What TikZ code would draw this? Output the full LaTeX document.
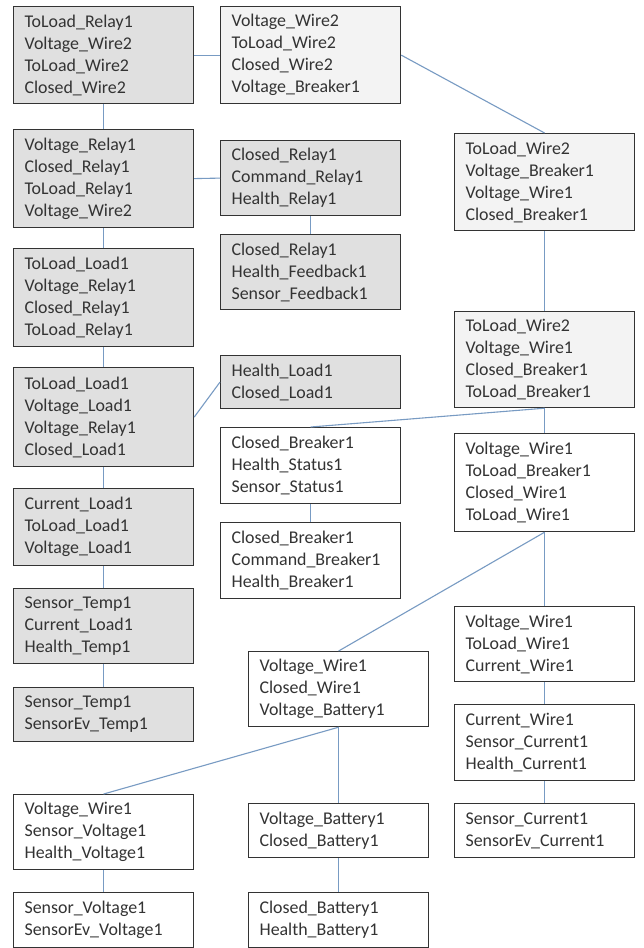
\documentclass[tikz,border=0pt]{standalone}
\usepackage{fontspec}
\setmainfont{Carlito}
\definecolor{gfill}{HTML}{E0E0E0}
\definecolor{lfill}{HTML}{F3F3F3}
\definecolor{linec}{RGB}{120,155,195}
\definecolor{textc}{HTML}{333333}
\definecolor{bordc}{HTML}{333333}
\tikzset{
  box/.style={draw=bordc, line width=1.2pt, anchor=north west, minimum width=180pt,
    text width=158pt, align=left, inner xsep=11pt, inner ysep=0pt,
    font=\fontsize{17.9}{22}\selectfont, text=textc},
  gbox/.style={box, fill=gfill},
  lbox/.style={box, fill=lfill},
  wbox/.style={box, fill=white},
  conn/.style={draw=linec, line width=1.1pt}
}
\begin{document}
\begin{tikzpicture}[x=1pt,y=-1pt]
\useasboundingbox[fill=white] (0,0) rectangle (644,948);
% left column
\node[gbox, minimum height=97pt] (A) at (13,6) {ToLoad\_Relay1\\Voltage\_Wire2\\ToLoad\_Wire2\\Closed\_Wire2};
\node[gbox, minimum height=98pt] (B) at (13,129) {Voltage\_Relay1\\Closed\_Relay1\\ToLoad\_Relay1\\Voltage\_Wire2};
\node[gbox, minimum height=98pt] (C) at (13,248) {ToLoad\_Load1\\Voltage\_Relay1\\Closed\_Relay1\\ToLoad\_Relay1};
\node[gbox, minimum height=99pt] (D) at (13,367) {ToLoad\_Load1\\Voltage\_Load1\\Voltage\_Relay1\\Closed\_Load1};
\node[gbox, minimum height=77pt] (E) at (13,488) {Current\_Load1\\ToLoad\_Load1\\Voltage\_Load1};
\node[gbox, minimum height=75pt] (F) at (13,588) {Sensor\_Temp1\\Current\_Load1\\Health\_Temp1};
\node[gbox, minimum height=54pt] (G) at (13,687) {Sensor\_Temp1\\SensorEv\_Temp1};
\node[wbox, minimum height=75pt] (H) at (13,794) {Voltage\_Wire1\\Sensor\_Voltage1\\Health\_Voltage1};
\node[wbox, minimum height=55pt] (I) at (13,892) {Sensor\_Voltage1\\SensorEv\_Voltage1};
% middle column
\node[lbox, minimum height=97pt] (J) at (220,6) {Voltage\_Wire2\\ToLoad\_Wire2\\Closed\_Wire2\\Voltage\_Breaker1};
\node[gbox, minimum height=75pt] (K) at (220,140) {Closed\_Relay1\\Command\_Relay1\\Health\_Relay1};
\node[gbox, minimum height=75pt] (L) at (220,234) {Closed\_Relay1\\Health\_Feedback1\\Sensor\_Feedback1};
\node[gbox, minimum height=53pt] (M) at (220,355) {Health\_Load1\\Closed\_Load1};
\node[wbox, minimum height=76pt] (N) at (220,427) {Closed\_Breaker1\\Health\_Status1\\Sensor\_Status1};
\node[wbox, minimum height=76pt] (O) at (220,522) {Closed\_Breaker1\\Command\_Breaker1\\Health\_Breaker1};
\node[wbox, minimum height=75pt] (S) at (248,651) {Voltage\_Wire1\\Closed\_Wire1\\Voltage\_Battery1};
\node[wbox, minimum height=54pt] (W) at (248,803) {Voltage\_Battery1\\Closed\_Battery1};
\node[wbox, minimum height=55pt] (X) at (248,892) {Closed\_Battery1\\Health\_Battery1};
% right column
\node[lbox, minimum height=97pt] (P) at (454,133) {ToLoad\_Wire2\\Voltage\_Breaker1\\Voltage\_Wire1\\Closed\_Breaker1};
\node[lbox, minimum height=96pt] (Q) at (454,311) {ToLoad\_Wire2\\Voltage\_Wire1\\Closed\_Breaker1\\ToLoad\_Breaker1};
\node[wbox, minimum height=98pt] (R) at (454,433) {Voltage\_Wire1\\ToLoad\_Breaker1\\Closed\_Wire1\\ToLoad\_Wire1};
\node[wbox, minimum height=75pt] (T) at (454,606) {Voltage\_Wire1\\ToLoad\_Wire1\\Current\_Wire1};
\node[wbox, minimum height=76pt] (U) at (454,704) {Current\_Wire1\\Sensor\_Current1\\Health\_Current1};
\node[wbox, minimum height=54pt] (V) at (454,803) {Sensor\_Current1\\SensorEv\_Current1};
% connectors
\draw[conn] (A.south) -- (B.north);
\draw[conn] (B.south) -- (C.north);
\draw[conn] (C.south) -- (D.north);
\draw[conn] (D.south) -- (E.north);
\draw[conn] (E.south) -- (F.north);
\draw[conn] (F.south) -- (G.north);
\draw[conn] (H.south) -- (I.north);
\draw[conn] (A.east) -- (J.west);
\draw[conn] (B.east) -- (K.west);
\draw[conn] (K.south) -- (L.north);
\draw[conn] (D.east) -- (M.west);
\draw[conn] (J.east) -- (P.north);
\draw[conn] (P.south) -- (Q.north);
\draw[conn] (Q.south) -- (R.north);
\draw[conn] (Q.south) -- (N.north);
\draw[conn] (N.south) -- (O.north);
\draw[conn] (R.south) -- (S.north);
\draw[conn] (R.south) -- (T.north);
\draw[conn] (T.south) -- (U.north);
\draw[conn] (U.south) -- (V.north);
\draw[conn] (S.south) -- (H.north);
\draw[conn] (S.south) -- (W.north);
\draw[conn] (W.south) -- (X.north);
\end{tikzpicture}
\end{document}
